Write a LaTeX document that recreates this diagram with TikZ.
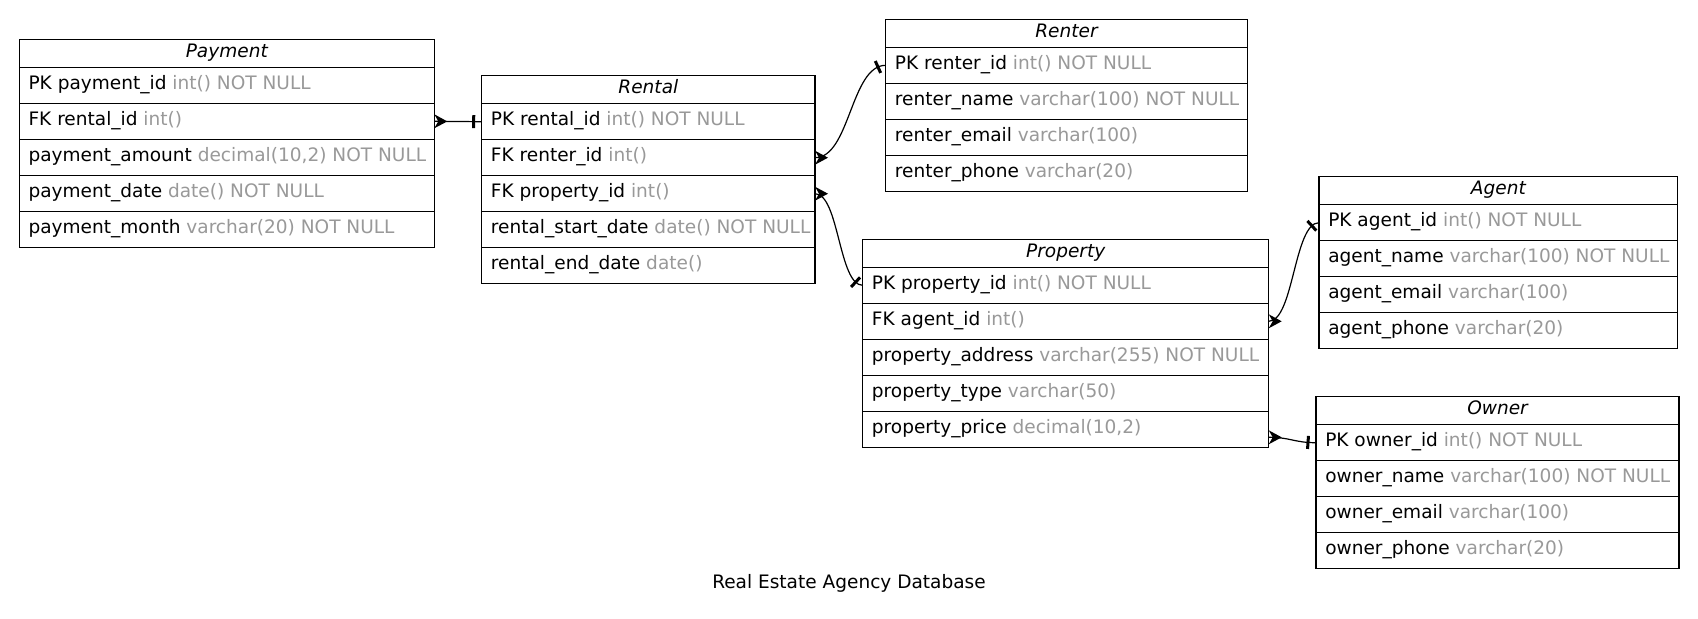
\documentclass[tikz,border=0pt]{standalone}
\usepackage{fontspec}
\setmainfont{DejaVu Sans}
\usetikzlibrary{calc,decorations.markings}

\definecolor{typegray}{RGB}{153,153,153}

\tikzset{
  tablebox/.style={draw, line width=0.8pt, inner sep=0pt, outer sep=0pt, fill=white},
  rowbox/.style={inner sep=0pt, outer sep=0pt, minimum height=27pt},
  sepline/.style={line width=1.1pt},
  titletext/.style={inner sep=0pt, font=\fontsize{13.9pt}{16pt}\selectfont\itshape},
  fieldtext/.style={inner sep=0pt, font=\fontsize{13.9pt}{16pt}\selectfont},
  rel/.style={line width=0.9pt},
  crowstart/.style={postaction={decorate, decoration={markings,
      mark=at position 0pt with {\fill (0,5.25pt) -- (9.75pt,0) -- (0,-5.25pt) -- (3pt,0) -- cycle;}}}},
  teeend/.style={postaction={decorate, decoration={markings,
      mark=at position -6pt with {\draw[line width=2.25pt] (0,-4.9pt) -- (0,4.9pt);}}}},
}

% #1 id, #2 left, #3 top, #4 width, #5 title, #6 number of rows
\newcommand{\ertable}[6]{%
  \node[tablebox, anchor=north west, minimum width=#4*0.75pt,
        minimum height=(28+36*#6)*0.75pt] (#1) at (#2,#3) {};
  \node[titletext, anchor=base] (#1-title) at (#2+#4/2, #3+17.7) {#5};
  \foreach \i in {1,...,#6} {
    \node[rowbox, anchor=north west, minimum width=#4*0.75pt] (#1-\i) at (#2, #3+28+36*\i-36) {};
    \draw[sepline] (#1-\i.north west) -- (#1-\i.north east);
  }
}
% #1 id, #2 row index, #3 field, #4 type
\newcommand{\erow}[4]{%
  \node[fieldtext, anchor=base west] (#1-#2-t) at ($(#1-#2.north west)+(9,22)$)
    {#3 \textcolor{typegray}{#4}};
}

\begin{document}
\begin{tikzpicture}[x=0.75pt,y=-0.75pt]
  \useasboundingbox (0,0) rectangle (1698,618);

  \ertable{payment}{19.3}{39.3}{415}{Payment}{5}
  \erow{payment}{1}{PK payment\_id}{int() NOT NULL}
  \erow{payment}{2}{FK rental\_id}{int()}
  \erow{payment}{3}{payment\_amount}{decimal(10,2) NOT NULL}
  \erow{payment}{4}{payment\_date}{date() NOT NULL}
  \erow{payment}{5}{payment\_month}{varchar(20) NOT NULL}

  \ertable{rental}{481.7}{75.7}{333.3}{Rental}{5}
  \erow{rental}{1}{PK rental\_id}{int() NOT NULL}
  \erow{rental}{2}{FK renter\_id}{int()}
  \erow{rental}{3}{FK property\_id}{int()}
  \erow{rental}{4}{rental\_start\_date}{date() NOT NULL}
  \erow{rental}{5}{rental\_end\_date}{date()}

  \ertable{renter}{885.7}{19.3}{361.6}{Renter}{4}
  \erow{renter}{1}{PK renter\_id}{int() NOT NULL}
  \erow{renter}{2}{renter\_name}{varchar(100) NOT NULL}
  \erow{renter}{3}{renter\_email}{varchar(100)}
  \erow{renter}{4}{renter\_phone}{varchar(20)}

  \ertable{property}{862.7}{239.3}{406}{Property}{5}
  \erow{property}{1}{PK property\_id}{int() NOT NULL}
  \erow{property}{2}{FK agent\_id}{int()}
  \erow{property}{3}{property\_address}{varchar(255) NOT NULL}
  \erow{property}{4}{property\_type}{varchar(50)}
  \erow{property}{5}{property\_price}{decimal(10,2)}

  \ertable{agent}{1319}{176.7}{358.7}{Agent}{4}
  \erow{agent}{1}{PK agent\_id}{int() NOT NULL}
  \erow{agent}{2}{agent\_name}{varchar(100) NOT NULL}
  \erow{agent}{3}{agent\_email}{varchar(100)}
  \erow{agent}{4}{agent\_phone}{varchar(20)}

  \ertable{owner}{1316}{396.7}{363}{Owner}{4}
  \erow{owner}{1}{PK owner\_id}{int() NOT NULL}
  \erow{owner}{2}{owner\_name}{varchar(100) NOT NULL}
  \erow{owner}{3}{owner\_email}{varchar(100)}
  \erow{owner}{4}{owner\_phone}{varchar(20)}

  % relationships: many (crow's foot) at the foreign key, one (tee) at the primary key
  \draw[rel, crowstart, teeend] (payment-2.east) -- (rental-1.west);
  \draw[rel, crowstart, teeend] (rental-2.east) .. controls +(35,0) and +(-35,0) .. (renter-1.west);
  \draw[rel, crowstart, teeend] (rental-3.east) .. controls +(24,0) and +(-24,0) .. (property-1.west);
  \draw[rel, crowstart, teeend] (property-2.east) .. controls +(25,0) and +(-25,0) .. (agent-1.west);
  \coordinate (price-port) at ($(property-5.east)+(0,8)$);
  \draw[rel, crowstart, teeend] (price-port) .. controls +(22,0) and +(-22,0) .. (owner-1.west);

  \node[fieldtext, anchor=base] (caption) at (849,588) {Real Estate Agency Database};
\end{tikzpicture}
\end{document}
